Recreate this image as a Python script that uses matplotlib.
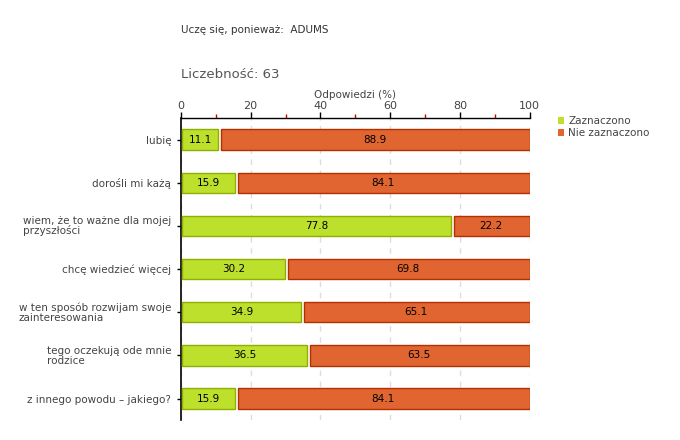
import matplotlib
matplotlib.use("Agg")
import matplotlib.pyplot as plt
import numpy as np

plt.rcParams['font.family'] = ['DejaVu Sans']

categories = [
    'lubię',
    'dorośli mi każą',
    'wiem, że to ważne dla mojej\nprzyszłości',
    'chcę wiedzieć więcej',
    'w ten sposób rozwijam swoje\nzainteresowania',
    'tego oczekują ode mnie\nrodzice',
    'z innego powodu – jakiego?',
]
zaznaczono = [11.1, 15.9, 77.8, 30.2, 34.9, 36.5, 15.9]
nie_zaznaczono = [88.9, 84.1, 22.2, 69.8, 65.1, 63.5, 84.1]

green = '#bde02d'
green_edge = '#8fb000'
orange = '#e06530'
orange_edge = '#b33000'
text_gray = '#444444'

fig = plt.figure(figsize=(6.8, 4.4), dpi=100)
ax = fig.add_axes([0.266, 0.045, 0.513, 0.687])

y = np.arange(len(categories))
gap = 0.8  # visual gap between the two segments, in % units

ax.barh(y, np.array(zaznaczono) - gap, left=gap / 2, height=0.47,
        color=green, edgecolor=green_edge, linewidth=1, label='Zaznaczono', zorder=3)
ax.barh(y, np.array(nie_zaznaczono) - gap / 2, left=np.array(zaznaczono) + gap / 2,
        height=0.47, color=orange, edgecolor=orange_edge, linewidth=1,
        label='Nie zaznaczono', zorder=3)

for i in range(len(categories)):
    ax.text(zaznaczono[i] / 2, y[i], f'{zaznaczono[i]:.1f}', ha='center', va='center',
            fontsize=7.5, color='black', zorder=4)
    ax.text(zaznaczono[i] + nie_zaznaczono[i] / 2, y[i], f'{nie_zaznaczono[i]:.1f}',
            ha='center', va='center', fontsize=7.5, color='black', zorder=4)

ax.set_xlim(0, 100)
ax.set_ylim(len(categories) - 0.5, -0.5)
ax.set_yticks(y)
ax.set_yticklabels(categories, fontsize=7.5, color=text_gray, linespacing=0.9)
for lbl in ax.get_yticklabels():
    lbl.set_multialignment('left')

ax.xaxis.tick_top()
ax.xaxis.set_label_position('top')
ax.set_xticks([0, 20, 40, 60, 80, 100])
ax.set_xticks([10, 30, 50, 70, 90], minor=True)
ax.tick_params(axis='x', which='major', length=4, width=1, color='black',
               labelsize=8, labelcolor=text_gray, pad=1)
ax.tick_params(axis='x', which='minor', length=3, width=1, color='#cc0000')
ax.tick_params(axis='y', length=3, width=1, color='black', pad=4)
ax.set_xlabel('Odpowiedzi (%)', fontsize=7.5, color=text_gray, labelpad=2)

ax.grid(axis='x', which='major', linestyle=(0, (4, 4)), color='#dddddd', linewidth=1, zorder=0)
for side in ['right', 'bottom']:
    ax.spines[side].set_visible(False)
ax.spines['top'].set_linewidth(1)
ax.spines['left'].set_linewidth(1.2)

fig.text(181 / 680, 1 - 30 / 440, 'Uczę się, ponieważ:  ADUMS', fontsize=7.5,
         color='#333333', va='center')
fig.text(181 / 680, 1 - 75 / 440, 'Liczebność: 63', fontsize=9.5,
         color='#555555', va='center')

leg = fig.legend(loc='upper left', bbox_to_anchor=(558 / 680, 1 - 116 / 440),
                 frameon=False, fontsize=7.5, handlelength=0.6, handleheight=0.6,
                 handletextpad=0.4, labelspacing=0.2, borderaxespad=0, borderpad=0)
for h in leg.legend_handles:
    h.set_linewidth(0)
for t in leg.get_texts():
    t.set_color(text_gray)

fig.savefig('out.png', dpi=100)
